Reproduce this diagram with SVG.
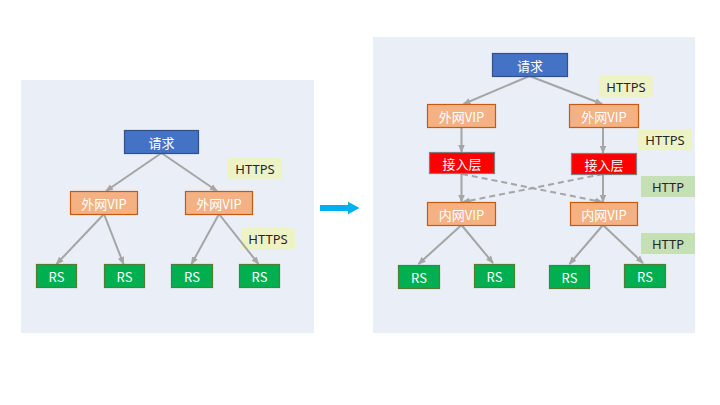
<svg xmlns="http://www.w3.org/2000/svg" width="720" height="405" viewBox="0 0 720 405">
<defs>
<marker id="ah" markerUnits="userSpaceOnUse" markerWidth="8" markerHeight="8" viewBox="0 0 8 8" refX="7" refY="4" orient="auto">
<path d="M0,0.8 L8,4 L0,7.2 Z" fill="#A5A5A5"/>
</marker>
<style>
.panel{fill:#E9EEF7}
.req{fill:#4472C4;stroke:#2F528F;stroke-width:1.2}
.vip{fill:#F4B183;stroke:#C55A11;stroke-width:1.2}
.acc{fill:#FF0000;stroke:#7F7F7F;stroke-width:1.2}
.rs{fill:#00B050;stroke:#507E32;stroke-width:1.2}
.lblS{fill:#EEF3C6}
.lblH{fill:#C5E0B4}
.t{font-family:"Noto Sans CJK SC","Noto Sans",sans-serif;font-size:13px;fill:#FFFFFF;text-anchor:middle;dominant-baseline:central}
.lt{font-family:"Noto Sans","Liberation Sans",sans-serif;font-size:13px;fill:#262626;text-anchor:middle;dominant-baseline:central}
.c{stroke:#A5A5A5;stroke-width:2;fill:none;marker-end:url(#ah)}
.d{stroke-dasharray:6,4}
</style>
</defs>
<rect class="panel" x="21" y="80" width="293" height="253"/>
<rect class="panel" x="373" y="37" width="322" height="296"/>
<path d="M320,205 H348 V201.7 L359.5,208 L348,214.3 V211 H320 Z" fill="#00B0F0"/>
<g id="labels">
<rect class="lblS" x="228" y="158" width="54" height="21"/><text class="lt" x="255" y="168.5">HTTPS</text>
<rect class="lblS" x="241" y="228" width="54" height="21"/><text class="lt" x="268" y="238.5">HTTPS</text>
<rect class="lblS" x="599" y="76" width="54" height="21"/><text class="lt" x="626" y="86.5">HTTPS</text>
<rect class="lblS" x="638" y="129" width="54" height="21"/><text class="lt" x="665" y="139.5">HTTPS</text>
<rect class="lblH" x="641" y="176" width="54" height="21"/><text class="lt" x="668" y="186.5">HTTP</text>
<rect class="lblH" x="641" y="233" width="54" height="21"/><text class="lt" x="668" y="243.5">HTTP</text>
</g>
<g id="connectors">
<line class="c" x1="161.5" y1="153" x2="106" y2="191"/>
<line class="c" x1="161.5" y1="153" x2="217" y2="191"/>
<line class="c" x1="104" y1="214" x2="56.5" y2="264"/>
<line class="c" x1="104" y1="214" x2="123.5" y2="264"/>
<line class="c" x1="219" y1="214" x2="191.5" y2="264"/>
<line class="c" x1="219" y1="214" x2="258.5" y2="264"/>
<line class="c" x1="529.5" y1="76" x2="463.5" y2="104"/>
<line class="c" x1="529.5" y1="76" x2="602" y2="104"/>
<line class="c" x1="461.5" y1="127" x2="461.5" y2="152"/>
<line class="c" x1="603" y1="127" x2="603" y2="153"/>
<line class="c" x1="461.5" y1="173.5" x2="461.5" y2="202"/>
<line class="c" x1="603" y1="174" x2="603" y2="202"/>
<line class="c d" x1="462" y1="174" x2="602" y2="202"/>
<line class="c d" x1="603" y1="174" x2="463" y2="202"/>
<line class="c" x1="461.5" y1="225" x2="418.5" y2="264"/>
<line class="c" x1="461.5" y1="225" x2="493" y2="263"/>
<line class="c" x1="603" y1="225" x2="569.5" y2="264"/>
<line class="c" x1="603" y1="225" x2="643" y2="263"/>
</g>
<g id="L-req"><rect class="req" x="124.5" y="130.5" width="74" height="23"/><text class="t" x="161.5" y="142">请求</text></g>
<g id="L-vip1"><rect class="vip" x="70.5" y="191.5" width="67" height="23"/><text class="t" x="104" y="203">外网VIP</text></g>
<g id="L-vip2"><rect class="vip" x="185.5" y="191.5" width="67" height="23"/><text class="t" x="219" y="203">外网VIP</text></g>
<g id="L-rs1"><rect class="rs" x="36.5" y="264.5" width="40" height="23"/><text class="t" x="56.5" y="276">RS</text></g>
<g id="L-rs2"><rect class="rs" x="104.5" y="264.5" width="40" height="23"/><text class="t" x="124.5" y="276">RS</text></g>
<g id="L-rs3"><rect class="rs" x="171.5" y="264.5" width="41" height="23"/><text class="t" x="192" y="276">RS</text></g>
<g id="L-rs4"><rect class="rs" x="239.5" y="264.5" width="40" height="23"/><text class="t" x="259.5" y="276">RS</text></g>
<g id="R-req"><rect class="req" x="492.5" y="53.5" width="75" height="23"/><text class="t" x="530" y="65">请求</text></g>
<g id="R-vip1"><rect class="vip" x="427.5" y="104.5" width="68" height="23"/><text class="t" x="461.5" y="116">外网VIP</text></g>
<g id="R-vip2"><rect class="vip" x="569.5" y="104.5" width="69" height="23"/><text class="t" x="604" y="116">外网VIP</text></g>
<g id="R-acc1"><rect class="acc" x="429.5" y="152.5" width="65" height="21"/><text class="t" x="462" y="163">接入层</text></g>
<g id="R-acc2"><rect class="acc" x="571.5" y="153.5" width="65" height="21"/><text class="t" x="604" y="164">接入层</text></g>
<g id="R-in1"><rect class="vip" x="427.5" y="202.5" width="68" height="23"/><text class="t" x="461.5" y="214">内网VIP</text></g>
<g id="R-in2"><rect class="vip" x="570.5" y="202.5" width="67" height="23"/><text class="t" x="604" y="214">内网VIP</text></g>
<g id="R-rs1"><rect class="rs" x="398.5" y="265.5" width="41" height="23"/><text class="t" x="419" y="277">RS</text></g>
<g id="R-rs2"><rect class="rs" x="474.5" y="264.5" width="40" height="23"/><text class="t" x="494.5" y="276">RS</text></g>
<g id="R-rs3"><rect class="rs" x="549.5" y="265.5" width="40" height="23"/><text class="t" x="569.5" y="277">RS</text></g>
<g id="R-rs4"><rect class="rs" x="624.5" y="264.5" width="41" height="23"/><text class="t" x="645" y="276">RS</text></g>
</svg>
